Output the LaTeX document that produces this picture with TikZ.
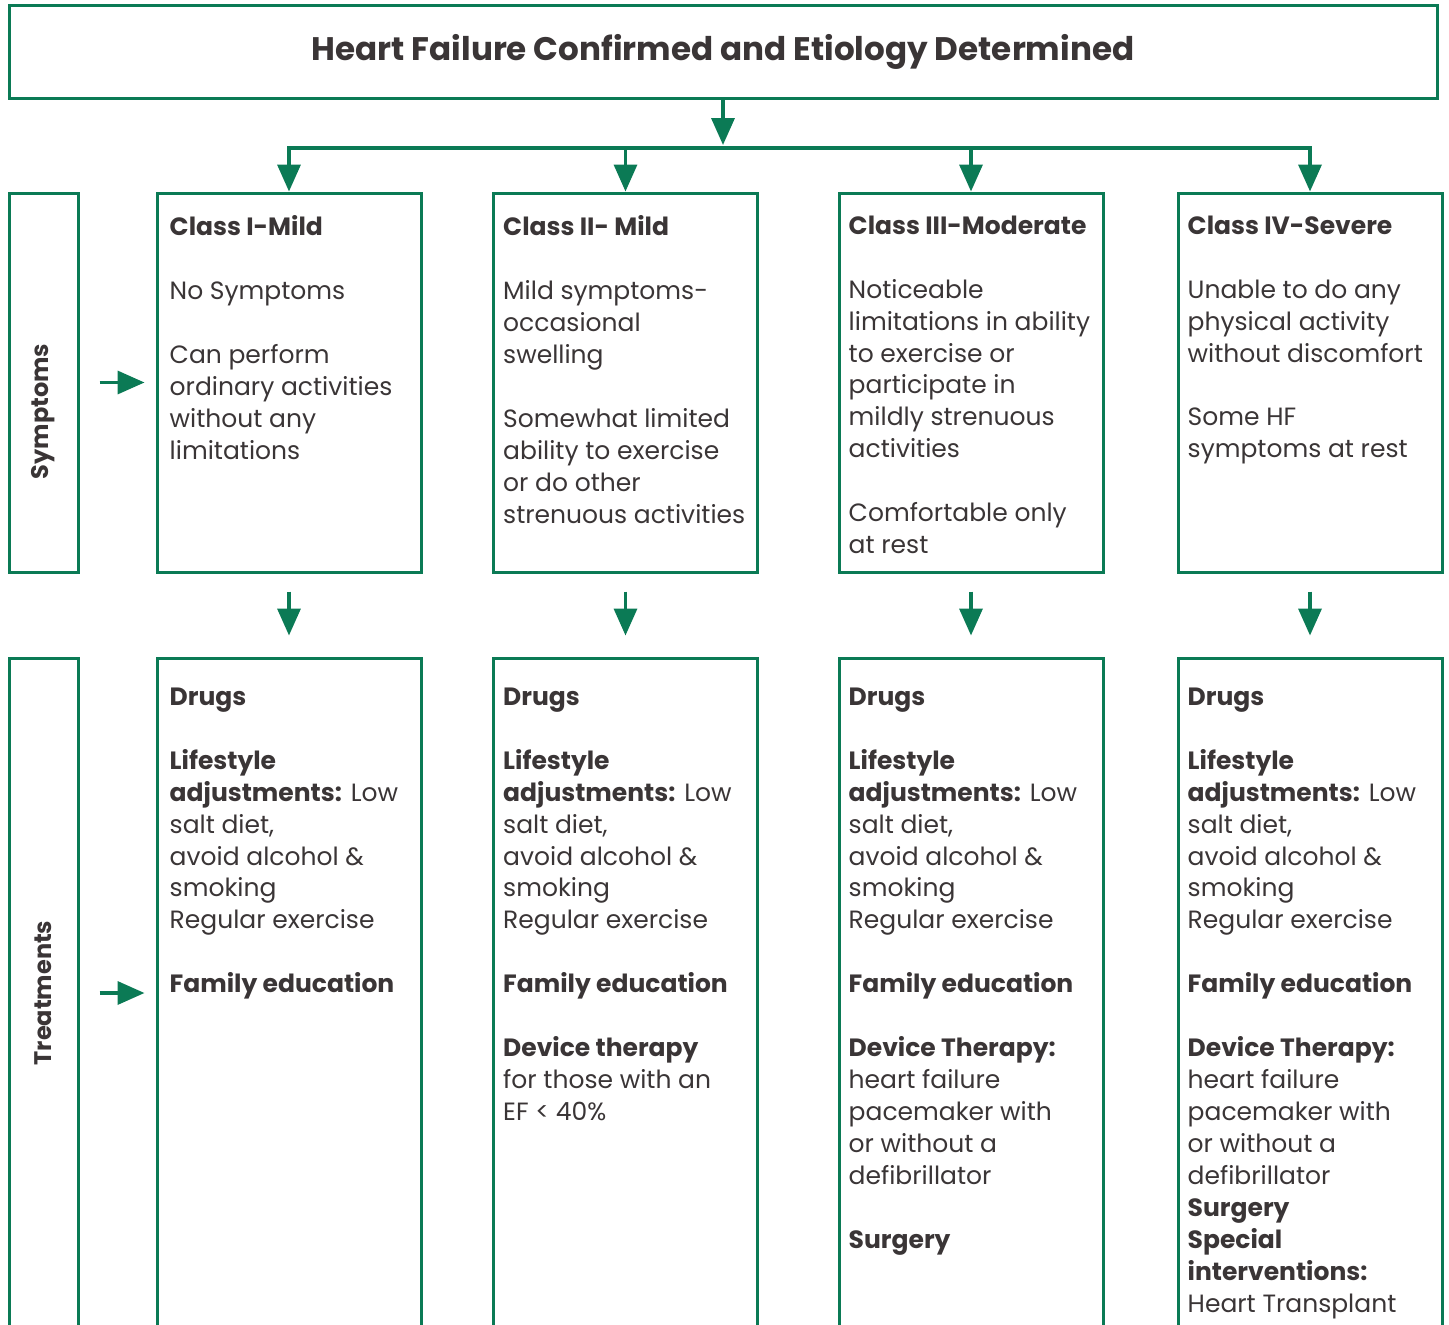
\documentclass[tikz,border=0pt]{standalone}
\usepackage{fontspec}
\setmainfont{Poppins}
\usetikzlibrary{positioning,arrows.meta}
\definecolor{hfgreen}{HTML}{0B7A55}
\definecolor{hftext}{HTML}{3A3536}

\begin{document}
\begin{tikzpicture}[x=1pt,y=-1pt,>={Triangle[width=23pt,length=27pt]},
    box/.style={draw=hfgreen,line width=3pt,inner sep=0pt},
    class node/.style={box,minimum width=264pt,minimum height=379pt},
    treat node/.style={box,minimum width=264pt,minimum height=670pt},
    side node/.style={box,minimum width=69pt},
    side label/.style={rotate=90,inner sep=0pt,text=hftext,font=\bfseries\fontsize{24}{28}\selectfont},
    body/.style={inner sep=0pt,align=left,text=hftext,font=\fontsize{25}{31.95}\selectfont},
    link/.style={hfgreen,line width=3.5pt}]
    \useasboundingbox (0,0) rectangle (1449,1325);
    \clip (0,0) rectangle (1449,1325);

    \node[box,minimum width=1428pt,minimum height=93pt,text=hftext,font=\bfseries\fontsize{32.6}{40}\selectfont] (title) at (723,51.5) {Heart Failure Confirmed and Etiology Determined};
    \coordinate (bar) at (723,148);

    % classes
    \node[side node,minimum height=379pt] (symp) at (43.5,382.5) {};
    \node[side label] (symp label) at ([yshift=-29pt]symp.center) {Symptoms};
    \node[class node] (c1) at (289,382.5) {};
    \node[class node] (c2) at (625.5,382.5) {};
    \node[class node] (c3) at (971,382.5) {};
    \node[class node] (c4) at (1310,382.5) {};

    \node[body,below right=24pt and 14pt of c1.north west] (c1 text) {\textbf{Class I-Mild}\\[31.95pt]No Symptoms\\[31.95pt]Can perform\\ordinary activities\\without any\\limitations};
    \node[body,below right=24pt and 11pt of c2.north west] (c2 text) {\textbf{Class II- Mild}\\[31.95pt]Mild symptoms-\\occasional\\swelling\\[31.95pt]Somewhat limited\\ability to exercise\\or do other\\strenuous activities};
    \node[body,below right=24pt and 11pt of c3.north west] (c3 text) {\textbf{Class III-Moderate}\\[31.95pt]Noticeable\\limitations in ability\\to exercise or\\participate in\\mildly strenuous\\activities\\[31.95pt]Comfortable only\\at rest};
    \node[body,below right=24pt and 11pt of c4.north west] (c4 text) {\textbf{Class IV-Severe}\\[31.95pt]Unable to do any\\physical activity\\without discomfort\\[31.95pt]Some HF\\symptoms at rest};

    % treatments
    \node[side node,minimum height=670pt] (treat) at (43.5,993) {};
    \node[side label] (treat label) at (treat) {Treatments};
    \node[treat node] (t1) at (289,993) {};
    \node[treat node] (t2) at (625.5,993) {};
    \node[treat node] (t3) at (971,993) {};
    \node[treat node] (t4) at (1310,993) {};

    \node[body,below right=31pt and 14pt of t1.north west] (t1 text) {\textbf{Drugs}\\[31.95pt]\textbf{Lifestyle}\\\textbf{adjustments:} Low\\salt diet,\\avoid alcohol \&\\smoking\\Regular exercise\\[31.95pt]\textbf{Family education}};
    \node[body,below right=31pt and 11pt of t2.north west] (t2 text) {\textbf{Drugs}\\[31.95pt]\textbf{Lifestyle}\\\textbf{adjustments:} Low\\salt diet,\\avoid alcohol \&\\smoking\\Regular exercise\\[31.95pt]\textbf{Family education}\\[31.95pt]\textbf{Device therapy}\\for those with an\\EF < 40\%};
    \node[body,below right=31pt and 11pt of t3.north west] (t3 text) {\textbf{Drugs}\\[31.95pt]\textbf{Lifestyle}\\\textbf{adjustments:} Low\\salt diet,\\avoid alcohol \&\\smoking\\Regular exercise\\[31.95pt]\textbf{Family education}\\[31.95pt]\textbf{Device Therapy:}\\heart failure\\pacemaker with\\or without a\\defibrillator\\[31.95pt]\textbf{Surgery}};
    \node[body,below right=31pt and 11pt of t4.north west] (t4 text) {\textbf{Drugs}\\[31.95pt]\textbf{Lifestyle}\\\textbf{adjustments:} Low\\salt diet,\\avoid alcohol \&\\smoking\\Regular exercise\\[31.95pt]\textbf{Family education}\\[31.95pt]\textbf{Device Therapy:}\\heart failure\\pacemaker with\\or without a\\defibrillator\\\textbf{Surgery}\\\textbf{Special}\\\textbf{interventions:}\\Heart Transplant};

    % connectors
    \draw[link,->,shorten >=3pt] (title) -- (bar);
    \draw[link,->] (bar) -| (c1);
    \draw[link,->] (bar) -| (c4);
    \draw[link,->] (c2.north |- bar) -- (c2);
    \draw[link,->] (c3.north |- bar) -- (c3);

    \path[link,->,shorten <=18pt,shorten >=21pt]
        (c1) edge (t1)
        (c2) edge (t2)
        (c3) edge (t3)
        (c4) edge (t4);
    \path[link,->,shorten <=20pt,shorten >=11pt]
        (symp) edge (c1)
        (treat) edge (t1);
\end{tikzpicture}
\end{document}
